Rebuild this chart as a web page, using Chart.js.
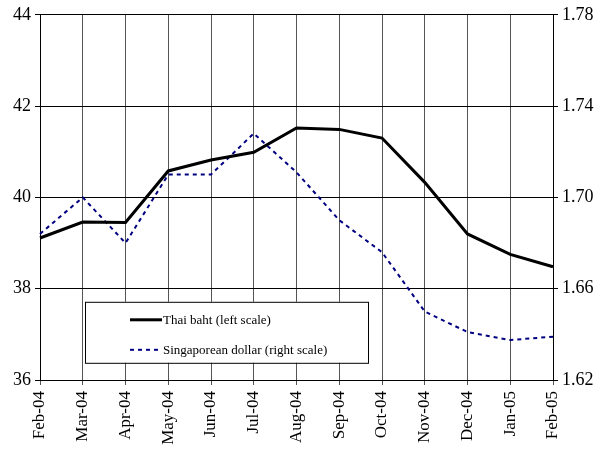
<!DOCTYPE html>
<html>
<head>
<meta charset="utf-8">
<script src="https://cdn.jsdelivr.net/npm/chart.js@4"></script>
<style>
  html, body { margin: 0; padding: 0; background: #ffffff; }
  #wrap { width: 595px; height: 450px; position: relative; }
</style>
</head>
<body>
<div id="wrap"><canvas id="fxChart" width="595" height="450"></canvas></div>
<script>
// 月ラベルと系列データ
const months = ['Feb-04', 'Mar-04', 'Apr-04', 'May-04', 'Jun-04', 'Jul-04', 'Aug-04',
                'Sep-04', 'Oct-04', 'Nov-04', 'Dec-04', 'Jan-05', 'Feb-05'];
const thaiBaht = [39.11, 39.46, 39.45, 40.58, 40.82, 40.99, 41.52, 41.49, 41.30, 40.33, 39.20, 38.75, 38.48];
const singDollar = [1.684, 1.700, 1.680, 1.710, 1.710, 1.728, 1.711, 1.690, 1.676, 1.650, 1.641, 1.6375, 1.639];
const leftTicks = [36, 38, 40, 42, 44];
const rightTicks = [1.62, 1.66, 1.70, 1.74, 1.78];

const serif = "'Liberation Serif', 'Times New Roman', serif";

// プロット内に凡例ボックスを描くプラグイン
const boxLegend = {
    id: 'boxLegend',
    afterDatasetsDraw(chart) {
        const c = chart.ctx;
        const a = chart.chartArea;
        const x = a.left + 45, y = a.top + 287, w = 283, h = 61;
        c.save();
        c.fillStyle = '#ffffff';
        c.fillRect(x, y, w, h);
        c.strokeStyle = '#000000';
        c.lineWidth = 1;
        c.strokeRect(x + 0.5, y + 0.5, w, h);
        c.font = '13px ' + serif;
        c.textBaseline = 'middle';
        chart.data.datasets.forEach((ds, i) => {
            const ly = y + 18 + i * 30;
            c.beginPath();
            c.strokeStyle = ds.borderColor;
            c.lineWidth = ds.borderWidth;
            c.setLineDash(ds.borderDash || []);
            c.moveTo(x + 45, ly);
            c.lineTo(x + 77, ly);
            c.stroke();
            c.setLineDash([]);
            c.fillStyle = '#000000';
            c.fillText(ds.label, x + 78, ly + 1);
        });
        c.restore();
    }
};

const ctx = document.getElementById('fxChart').getContext('2d');

const fxChart = new Chart(ctx, {
    type: 'line',
    data: {
        labels: months,
        datasets: [
            {
                label: 'Thai baht (left scale)',
                data: thaiBaht,
                yAxisID: 'y',
                borderColor: '#000000',
                borderWidth: 3,
                pointRadius: 0,
                tension: 0
            },
            {
                label: 'Singaporean dollar (right scale)',
                data: singDollar,
                yAxisID: 'y1',
                borderColor: '#000080',
                borderWidth: 2,
                borderDash: [4, 4],
                pointRadius: 0,
                tension: 0
            }
        ]
    },
    options: {
        responsive: false,
        animation: false,
        layout: { padding: { top: 14, left: 0, right: 0, bottom: 0 } },
        plugins: {
            legend: { display: false },
            tooltip: { enabled: false }
        },
        scales: {
            x: {
                offset: false,
                grid: { color: '#555555', lineWidth: 1, tickLength: 5 },
                border: { color: '#000000' },
                ticks: {
                    color: '#000000',
                    font: { family: serif, size: 17 },
                    minRotation: 90,
                    maxRotation: 90,
                    autoSkip: false,
                    padding: 6
                },
                afterFit(scale) { scale.height = 70; }
            },
            y: {
                position: 'left',
                min: 36,
                max: 44,
                afterBuildTicks(scale) { scale.ticks = leftTicks.map(v => ({ value: v })); },
                grid: { color: '#000000', lineWidth: 1, tickLength: 5 },
                border: { color: '#000000' },
                ticks: {
                    color: '#000000',
                    font: { family: serif, size: 18 },
                    padding: 4
                },
                afterFit(scale) { scale.width = 40; }
            },
            y1: {
                position: 'right',
                min: 1.62,
                max: 1.78,
                afterBuildTicks(scale) { scale.ticks = rightTicks.map(v => ({ value: v })); },
                grid: { drawOnChartArea: false, color: '#000000', tickLength: 5 },
                border: { color: '#000000' },
                ticks: {
                    color: '#000000',
                    font: { family: serif, size: 18 },
                    padding: 4,
                    callback: v => v.toFixed(2)
                },
                afterFit(scale) { scale.width = 42; }
            }
        }
    },
    plugins: [boxLegend]
});
</script>
</body>
</html>
